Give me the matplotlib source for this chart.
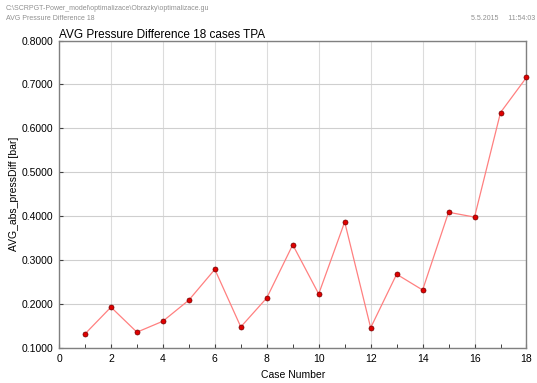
import matplotlib
matplotlib.use("Agg")
import matplotlib.pyplot as plt
from matplotlib.ticker import MultipleLocator, FormatStrFormatter

case_number = [1, 2, 3, 4, 5, 6, 7, 8, 9, 10, 11, 12, 13, 14, 15, 16, 17, 18]
avg_press_diff = [0.132, 0.193, 0.136, 0.161, 0.209, 0.279, 0.148, 0.214, 0.335,
                  0.223, 0.387, 0.146, 0.268, 0.232, 0.409, 0.398, 0.636, 0.716]

title = "AVG Pressure Difference 18 cases TPA"
xlabel = "Case Number"
ylabel = "AVG_abs_pressDiff [bar]"
header_path = "C:\\SCRPGT-Power_model\\optimalizace\\Obrazky\\optimalizace.gu"
header_name = "AVG Pressure Difference 18"
header_date = "5.5.2015     11:54:03"

plt.rcParams['font.family'] = ['Liberation Sans', 'DejaVu Sans']

fig = plt.figure(figsize=(5.37, 3.83), dpi=100)
ax = fig.add_axes([0.1099, 0.0914, 0.8705, 0.8028])

ax.plot(case_number, avg_press_diff, color='#ff8080', lw=0.9, zorder=3)
ax.plot(case_number, avg_press_diff, ls='none', marker='o', ms=3.6,
        mfc='#e00000', mec='#700000', mew=0.5, zorder=4, clip_on=False)

ax.set_xlim(0, 18)
ax.set_ylim(0.1, 0.8)
ax.xaxis.set_major_locator(MultipleLocator(2))
ax.xaxis.set_minor_locator(MultipleLocator(1))
ax.yaxis.set_major_locator(MultipleLocator(0.1))
ax.yaxis.set_major_formatter(FormatStrFormatter('%.4f'))

ax.grid(True, which='major', axis='x', color='#dcdcdc', lw=0.8)
ax.grid(True, which='major', axis='y', color='#cfcfcf', lw=0.8)
ax.set_axisbelow(True)

ax.tick_params(axis='both', which='major', direction='in', length=3,
               labelsize=7.5, color='#404040', pad=4)
ax.tick_params(axis='x', which='minor', direction='in', length=3, color='#202020')
for s in ax.spines.values():
    s.set_color('#808080')
    s.set_linewidth(1.0)

ax.set_xlabel(xlabel, fontsize=7.5, labelpad=5)
ax.set_ylabel(ylabel, fontsize=7.5, labelpad=2)
ax.set_title(title, fontsize=8.5, loc='left', pad=1.5)

fig.text(6 / 537, 1 - 8 / 383, header_path, fontsize=5, color='#909090', va='center')
fig.text(6 / 537, 1 - 18 / 383, header_name, fontsize=5, color='#909090', va='center')
fig.text(535 / 537, 1 - 18 / 383, header_date, fontsize=5, color='#909090',
         va='center', ha='right')

fig.savefig("out.png", dpi=100)
